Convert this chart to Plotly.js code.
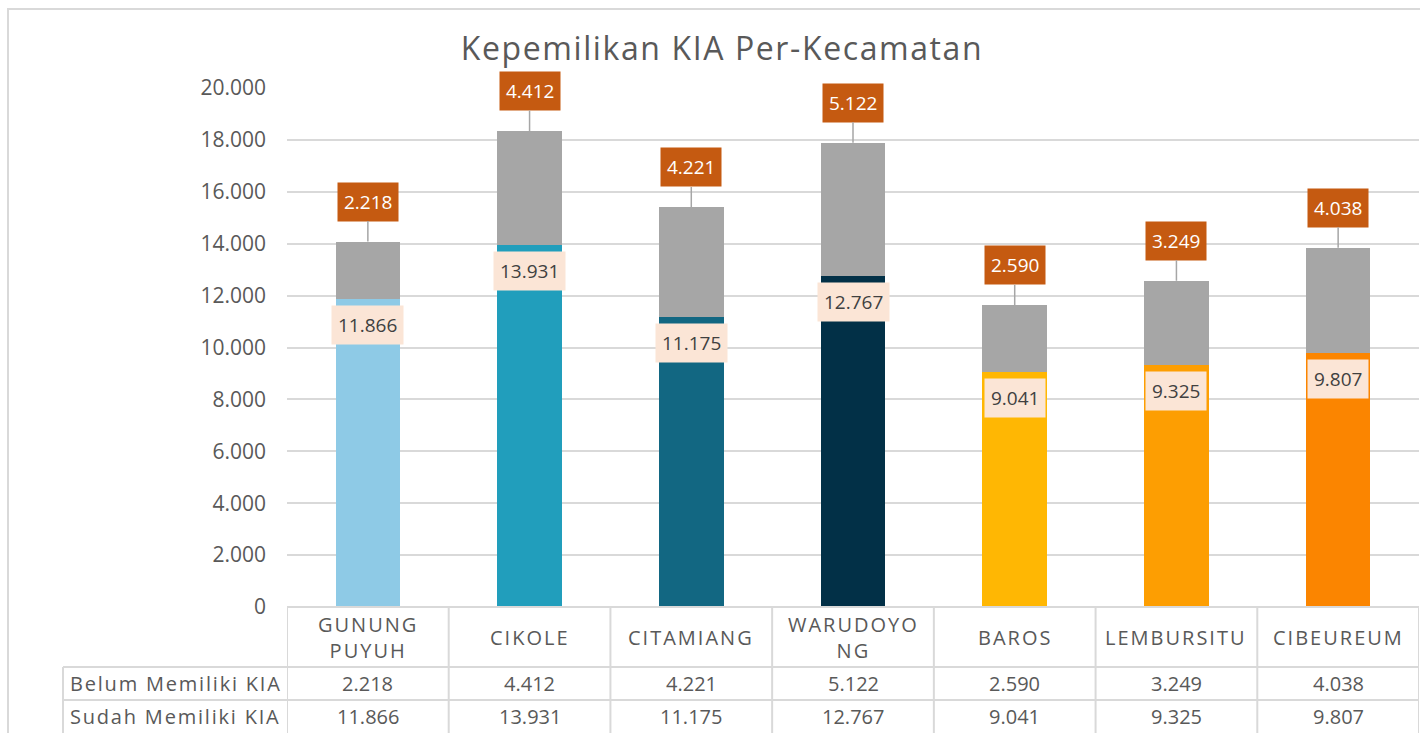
<!DOCTYPE html>
<html>
<head>
<meta charset="utf-8">
<script src="https://cdn.plot.ly/plotly-3.0.1.min.js"></script>
<style>html,body{margin:0;padding:0;background:#fff;}#chart{width:1420px;height:733px;}</style>
</head>
<body>
<div id="chart"></div>
<script>
// ---- data ----
const categories = ['GUNUNG PUYUH','CIKOLE','CITAMIANG','WARUDOYONG','BAROS','LEMBURSITU','CIBEUREUM'];
const categoryLabels = ['GUNUNG<br>PUYUH','CIKOLE','CITAMIANG','WARUDOYO<br>NG','BAROS','LEMBURSITU','CIBEUREUM'];
const belum = [2218,4412,4221,5122,2590,3249,4038];
const sudah = [11866,13931,11175,12767,9041,9325,9807];
const seriesNames = ['Belum Memiliki KIA','Sudah Memiliki KIA'];
const yTickVals = [0,2000,4000,6000,8000,10000,12000,14000,16000,18000,20000];
const titleText = 'Kepemilikan KIA Per-Kecamatan';

// ---- styles ----
const sudahColors = ['#8ecae6','#219ebc','#126782','#023047','#ffb703','#fd9e02','#fb8500'];
const belumColor = '#a6a6a6';
const FONT = 'Open Sans, sans-serif';
const TXT = '#595959';
const GRID = '#d9d9d9';
const W = 1420, H = 733;
const L = 287, R = 1419, T = 88, B = 607;

const px2x = p => (p - L) / (R - L);
const px2y = p => (B - p) / (B - T);
const fmt = v => String(v).replace(/\B(?=(\d{3})+(?!\d))/g, '.');
const sp = (s, ls) => s.split('<br>').map(t => '<span style="letter-spacing:' + ls + 'px">' + t + '</span>').join('<br>');
const totals = sudah.map((v,i) => v + belum[i]);

const traces = [
  {type:'bar', name: seriesNames[1], x: categories, y: sudah,
   marker:{color: sudahColors}, hoverinfo:'none'},
  {type:'bar', name: seriesNames[0], x: categories, y: belum,
   marker:{color: belumColor}, hoverinfo:'none'}
];

const annotations = [];
const shapes = [];

// data labels
categories.forEach((c,i) => {
  annotations.push({x:c, y:sudah[i], xref:'x', yref:'y', text: fmt(sudah[i]),
    showarrow:false, yanchor:'middle', yshift:-26,
    bgcolor:'#fbe5d6', borderpad:6,
    font:{family:FONT, size:19, color:'#404040'}});
  annotations.push({x:c, y:totals[i], xref:'x', yref:'y', text: fmt(belum[i]),
    showarrow:true, arrowhead:0, arrowwidth:1.5, arrowcolor:'#a6a6a6',
    ax:0, ay:-40, bgcolor:'#c55a11', borderpad:6, standoff:0,
    font:{family:FONT, size:19, color:'#ffffff'}});
});

// data table
const rowTop = [B, 667, 700, 733];
const tableLeft = 63;
shapes.push({type:'line', xref:'paper', yref:'paper', x0:px2x(tableLeft), x1:1, y0:px2y(rowTop[1]), y1:px2y(rowTop[1]), line:{color:GRID, width:2}});
shapes.push({type:'line', xref:'paper', yref:'paper', x0:px2x(tableLeft), x1:1, y0:px2y(rowTop[2]), y1:px2y(rowTop[2]), line:{color:GRID, width:2}});
shapes.push({type:'line', xref:'paper', yref:'paper', x0:0, x1:1, y0:0, y1:0, line:{color:GRID, width:2}});
shapes.push({type:'line', xref:'paper', yref:'paper', x0:px2x(tableLeft), x1:px2x(tableLeft), y0:px2y(rowTop[1]), y1:px2y(760), line:{color:GRID, width:2}});
for (let k = 0; k <= categories.length; k++) {
  shapes.push({type:'line', xref:'x', yref:'paper', x0:k-0.5, x1:k-0.5, y0:0, y1:px2y(760), line:{color:GRID, width:2}});
}
// outer chart border
shapes.push({type:'rect', xref:'paper', yref:'paper', x0:px2x(8), x1:px2x(1440), y0:px2y(9), y1:px2y(760), line:{color:GRID, width:2}, fillcolor:'rgba(0,0,0,0)'});

const rowMid = [(rowTop[0]+rowTop[1])/2, (rowTop[1]+rowTop[2])/2, (rowTop[2]+rowTop[3])/2];
categories.forEach((c,i) => {
  annotations.push({x:c, xref:'x', y:px2y(rowMid[0]), yref:'paper', text:sp(categoryLabels[i], 2), showarrow:false,
    font:{family:FONT, size:20, color:TXT}, yanchor:'middle'});
  annotations.push({x:c, xref:'x', y:px2y(rowMid[1]), yref:'paper', text:fmt(belum[i]), showarrow:false,
    font:{family:FONT, size:20, color:TXT}, yanchor:'middle'});
  annotations.push({x:c, xref:'x', y:px2y(rowMid[2]), yref:'paper', text:fmt(sudah[i]), showarrow:false,
    font:{family:FONT, size:20, color:TXT}, yanchor:'middle'});
});
annotations.push({x:px2x(68), xref:'paper', y:px2y(rowMid[1]), yref:'paper', text:sp(seriesNames[0], 1.8), showarrow:false,
  xanchor:'left', yanchor:'middle', font:{family:FONT, size:20, color:TXT}});
annotations.push({x:px2x(68), xref:'paper', y:px2y(rowMid[2]), yref:'paper', text:sp(seriesNames[1], 1.8), showarrow:false,
  xanchor:'left', yanchor:'middle', font:{family:FONT, size:20, color:TXT}});

const layout = {
  width:W, height:H,
  margin:{l:L, r:W-R, t:T, b:H-B, pad:0},
  paper_bgcolor:'#ffffff', plot_bgcolor:'#ffffff',
  separators:',.',
  barmode:'stack', bargap:0.6,
  showlegend:false,
  title:{text:sp(titleText, 1.6), x:px2x(722), xref:'paper', xanchor:'center', y:1-49/H, yref:'container', yanchor:'middle',
    font:{family:FONT, size:32, color:TXT}},
  xaxis:{type:'category', showticklabels:false, ticks:'', showgrid:false, zeroline:false, showline:false,
    range:[-0.5, categories.length-0.5], fixedrange:true},
  yaxis:{range:[0,20000], tickvals:yTickVals, tickformat:',d', showgrid:true, gridcolor:GRID, gridwidth:2,
    zeroline:false, showline:false, ticks:'', ticklabelstandoff:20,
    tickfont:{family:FONT, size:21, color:TXT}, fixedrange:true},
  shapes:shapes, annotations:annotations
};

Plotly.newPlot('chart', traces, layout, {displayModeBar:false, staticPlot:true});
</script>
</body>
</html>
